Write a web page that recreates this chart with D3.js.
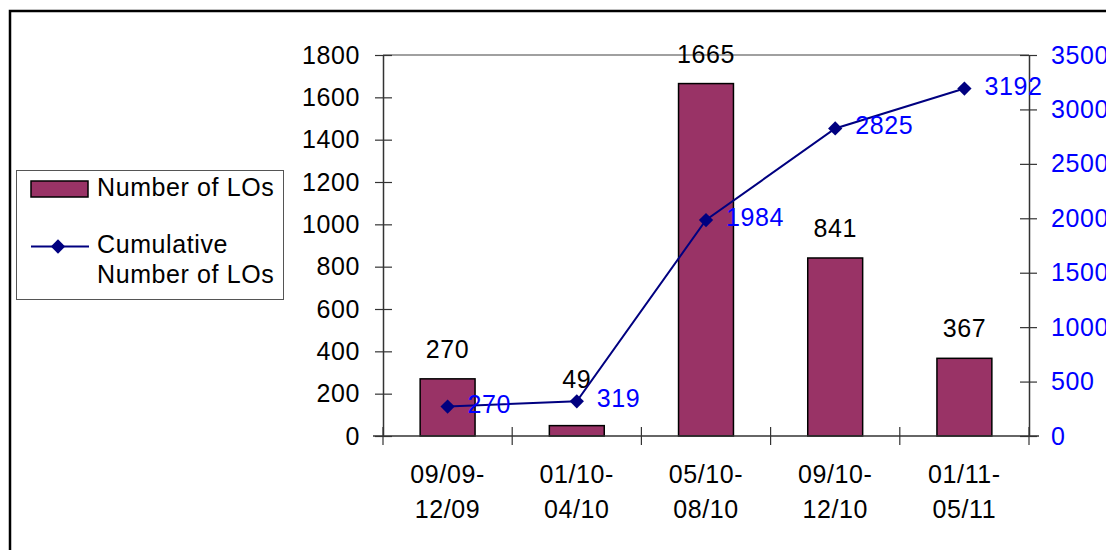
<!DOCTYPE html>
<html>
<head>
<script src="https://cdn.jsdelivr.net/npm/d3@7"></script>
<style>
  body { margin: 0; background: #fff; }
  svg text { font-family: "Liberation Sans", Arial, sans-serif; letter-spacing: 0.6px; }
</style>
</head>
<body>
<svg id="chart" width="1106" height="550"></svg>
<script>
// data
var periods = ["09/09-12/09", "01/10-04/10", "05/10-08/10", "09/10-12/10", "01/11-05/11"];
var numberLOs = [270, 49, 1665, 841, 367];
var cumulativeLOs = [270, 319, 1984, 2825, 3192];
var leftTicks = [0, 200, 400, 600, 800, 1000, 1200, 1400, 1600, 1800];
var rightTicks = [0, 500, 1000, 1500, 2000, 2500, 3000, 3500];

var barColor = '#993366';
var lineColor = '#000080';
var labelBlue = '#0000ff';
var fs = 25;
// the "49" label sits a bit higher in the original
var labelLift = [0, 17, 0, 0, 0];

var svg = d3.select("#chart");
var plot = {left: 383, right: 1029, top: 55, bottom: 436};

// outer frame (only top and left edges are in view)
svg.append("path")
    .attr("d", "M10,560V11H1110")
    .attr("fill", "none")
    .attr("stroke", "#000")
    .attr("stroke-width", 2.5);

var x = d3.scaleBand().domain(periods).range([plot.left, plot.right]).padding(0);
var yL = d3.scaleLinear().domain([0, 1800]).range([plot.bottom, plot.top]);
var yR = d3.scaleLinear().domain([0, 3500]).range([plot.bottom, plot.top]);
var barW = x.bandwidth() * 0.425;

// top edge of plot area
svg.append("line")
    .attr("x1", plot.left).attr("x2", plot.right)
    .attr("y1", plot.top).attr("y2", plot.top)
    .attr("stroke", "#808080").attr("stroke-width", 1.5);

// bars
svg.append("g").selectAll("rect")
    .data(numberLOs)
  .enter().append("rect")
    .attr("x", function(d, i) { return x(periods[i]) + (x.bandwidth() - barW) / 2; })
    .attr("y", function(d) { return yL(d); })
    .attr("width", barW)
    .attr("height", function(d) { return yL(0) - yL(d); })
    .attr("fill", barColor)
    .attr("stroke", "#000")
    .attr("stroke-width", 1.5);

// left axis
var gL = svg.append("g")
    .attr("transform", "translate(" + plot.left + ",0)")
    .call(d3.axisLeft(yL).tickValues(leftTicks).tickFormat(d3.format("d")).tickSizeOuter(0));
gL.select(".domain").attr("stroke", "#333").attr("stroke-width", 1.5);
gL.selectAll(".tick line").attr("x1", -8).attr("x2", 9).attr("stroke", "#333").attr("stroke-width", 1.2);
gL.selectAll(".tick text").attr("x", -23).attr("font-size", fs).attr("fill", "#000")
    .style("font-family", '"Liberation Sans", Arial, sans-serif');

// right axis
var gR = svg.append("g")
    .attr("transform", "translate(" + plot.right + ",0)")
    .call(d3.axisRight(yR).tickValues(rightTicks).tickFormat(d3.format("d")).tickSizeOuter(0));
gR.select(".domain").attr("stroke", "#333").attr("stroke-width", 1.5);
gR.selectAll(".tick line").attr("x1", -9).attr("x2", 8).attr("stroke", "#333").attr("stroke-width", 1.2);
gR.selectAll(".tick text").attr("x", 22).attr("font-size", fs).attr("fill", labelBlue)
    .style("font-family", '"Liberation Sans", Arial, sans-serif');

// bottom axis: ticks at category boundaries
var bounds = periods.map(function(p) { return x(p); }).concat([plot.right]);
var gB = svg.append("g");
gB.append("line")
    .attr("x1", plot.left - 10).attr("x2", plot.right + 10)
    .attr("y1", plot.bottom).attr("y2", plot.bottom)
    .attr("stroke", "#333").attr("stroke-width", 1.5);
gB.selectAll("line.tk")
    .data(bounds)
  .enter().append("line")
    .attr("class", "tk")
    .attr("x1", function(d) { return d; }).attr("x2", function(d) { return d; })
    .attr("y1", plot.bottom - 9).attr("y2", plot.bottom + 9)
    .attr("stroke", "#333").attr("stroke-width", 1.2);
var catLabel = gB.selectAll("text.cat")
    .data(periods)
  .enter().append("text")
    .attr("class", "cat")
    .attr("text-anchor", "middle")
    .attr("font-size", fs);
catLabel.append("tspan")
    .attr("x", function(d) { return x(d) + x.bandwidth() / 2; })
    .attr("y", 483)
    .text(function(d) { return d.slice(0, 6); });
catLabel.append("tspan")
    .attr("x", function(d) { return x(d) + x.bandwidth() / 2; })
    .attr("y", 518)
    .text(function(d) { return d.slice(6); });

// bar value labels
svg.append("g").selectAll("text")
    .data(numberLOs)
  .enter().append("text")
    .attr("x", function(d, i) { return x(periods[i]) + x.bandwidth() / 2; })
    .attr("y", function(d, i) { return yL(d) - 21 - labelLift[i]; })
    .attr("text-anchor", "middle")
    .attr("font-size", fs)
    .text(function(d) { return d; });

// cumulative line
var line = d3.line()
    .x(function(d, i) { return x(periods[i]) + x.bandwidth() / 2; })
    .y(function(d) { return yR(d); });
svg.append("path")
    .datum(cumulativeLOs)
    .attr("d", line)
    .attr("fill", "none")
    .attr("stroke", lineColor)
    .attr("stroke-width", 2);

var diamond = d3.symbol().type(d3.symbolDiamond2).size(130);
svg.append("g").selectAll("path")
    .data(cumulativeLOs)
  .enter().append("path")
    .attr("d", diamond)
    .attr("transform", function(d, i) {
      return "translate(" + (x(periods[i]) + x.bandwidth() / 2) + "," + yR(d) + ")";
    })
    .attr("fill", lineColor);

svg.append("g").selectAll("text")
    .data(cumulativeLOs)
  .enter().append("text")
    .attr("x", function(d, i) { return x(periods[i]) + x.bandwidth() / 2 + 20; })
    .attr("y", function(d) { return yR(d) - 3; })
    .attr("dy", "0.36em")
    .attr("font-size", fs)
    .attr("fill", labelBlue)
    .text(function(d) { return d; });

// legend
var lg = svg.append("g");
lg.append("rect")
    .attr("x", 16.5).attr("y", 170.5).attr("width", 267).attr("height", 129)
    .attr("fill", "#fff").attr("stroke", "#555").attr("stroke-width", 1);
lg.append("rect")
    .attr("x", 31).attr("y", 181).attr("width", 57).attr("height", 16)
    .attr("fill", barColor).attr("stroke", "#000").attr("stroke-width", 1.5);
lg.append("text").attr("x", 97).attr("y", 196).attr("font-size", fs).text("Number of LOs");
lg.append("line")
    .attr("x1", 31).attr("x2", 89).attr("y1", 246.5).attr("y2", 246.5)
    .attr("stroke", lineColor).attr("stroke-width", 2);
lg.append("path")
    .attr("d", diamond)
    .attr("transform", "translate(58,246.5)")
    .attr("fill", lineColor);
var lt = lg.append("text").attr("font-size", fs);
lt.append("tspan").attr("x", 97).attr("y", 253).text("Cumulative");
lt.append("tspan").attr("x", 97).attr("y", 283).text("Number of LOs");
</script>
</body>
</html>
